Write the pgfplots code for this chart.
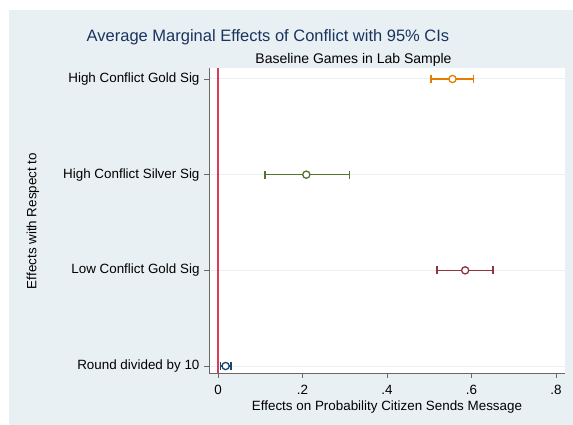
\documentclass[border=0pt]{standalone}
\usepackage{pgfplots}
\pgfplotsset{compat=1.18}
\usepackage{fontspec}
\setmainfont{Liberation Sans}

\definecolor{bgpanel}{RGB}{233,240,243}
\definecolor{gridc}{RGB}{234,241,244}
\definecolor{axisc}{RGB}{105,105,105}
\definecolor{zeroline}{RGB}{220,58,88}
\definecolor{titlec}{RGB}{26,52,96}
\definecolor{navy}{RGB}{26,71,111}
\definecolor{maroon}{RGB}{144,53,59}
\definecolor{forest}{RGB}{85,117,47}
\definecolor{dkorange}{RGB}{227,126,0}

\newcommand{\lblfont}{\fontsize{13.4bp}{16bp}\selectfont}

\begin{document}
\begin{tikzpicture}
  % page and graph region
  \path[use as bounding box, fill=white] (0,0) rectangle (573bp,425bp);
  \fill[bgpanel] (9bp,0) rectangle (573bp,415bp);

  \begin{axis}[
    at={(209bp,52bp)}, anchor=south west,
    scale only axis, width=356bp, height=305bp,
    xmin=-0.0213, xmax=0.8213,
    ymin=0.927, ymax=4.115,
    axis background/.style={fill=white},
    axis x line*=bottom, axis y line*=left,
    axis line style={-, draw=axisc, line width=0.9bp},
    tick align=outside, major tick length=5bp,
    tick style={draw=axisc, line width=0.9bp},
    xtick={0,0.2,0.4,0.6,0.8},
    xticklabels={0,.2,.4,.6,.8},
    ytick={1,2,3,4},
    yticklabels={Round divided by 10, Low Conflict Gold Sig, High Conflict Silver Sig, High Conflict Gold Sig},
    ymajorgrids, grid style={draw=gridc, line width=1bp},
    ticklabel style={font=\lblfont},
    yticklabel style={xshift=-1bp},
    xticklabel style={yshift=-4bp},
    clip=false,
  ]
    % reference line at zero effect
    \addplot[draw=zeroline, line width=1.2bp, forget plot] coordinates {(0,0.927) (0,4.115)};

    \pgfplotsset{ame/.style={
      only marks, mark=*, mark size=3.6bp,
      mark options={fill=white, draw=#1, line width=1.3bp},
      error bars/.cd, x dir=both, x explicit,
      error bar style={draw=#1, line width=1.3bp},
      error mark options={draw=#1, line width=1.3bp, mark size=4bp, rotate=90},
    }}
    \addplot[ame=navy] coordinates {(0.018,1) += (0.013,0) -= (0.012,0)};
    \addplot[ame=maroon] coordinates {(0.585,2) += (0.066,0) -= (0.067,0)};
    \addplot[ame=forest] coordinates {(0.209,3) += (0.103,0) -= (0.098,0)};
    \addplot[ame=dkorange] coordinates {(0.555,4) += (0.050,0) -= (0.051,0)};
  \end{axis}

  % titles and axis titles
  \node[text=titlec, font=\fontsize{16.5bp}{19bp}\selectfont] at (268bp,388bp) {Average Marginal Effects of Conflict with 95\% CIs};
  \node[font=\fontsize{14bp}{17bp}\selectfont] at (353.5bp,365bp) {Baseline Games in Lab Sample};
  \node[font=\lblfont, rotate=90] at (33bp,204bp) {Effects with Respect to};
  \node[font=\lblfont] at (387bp,18bp) {Effects on Probability Citizen Sends Message};
\end{tikzpicture}
\end{document}
